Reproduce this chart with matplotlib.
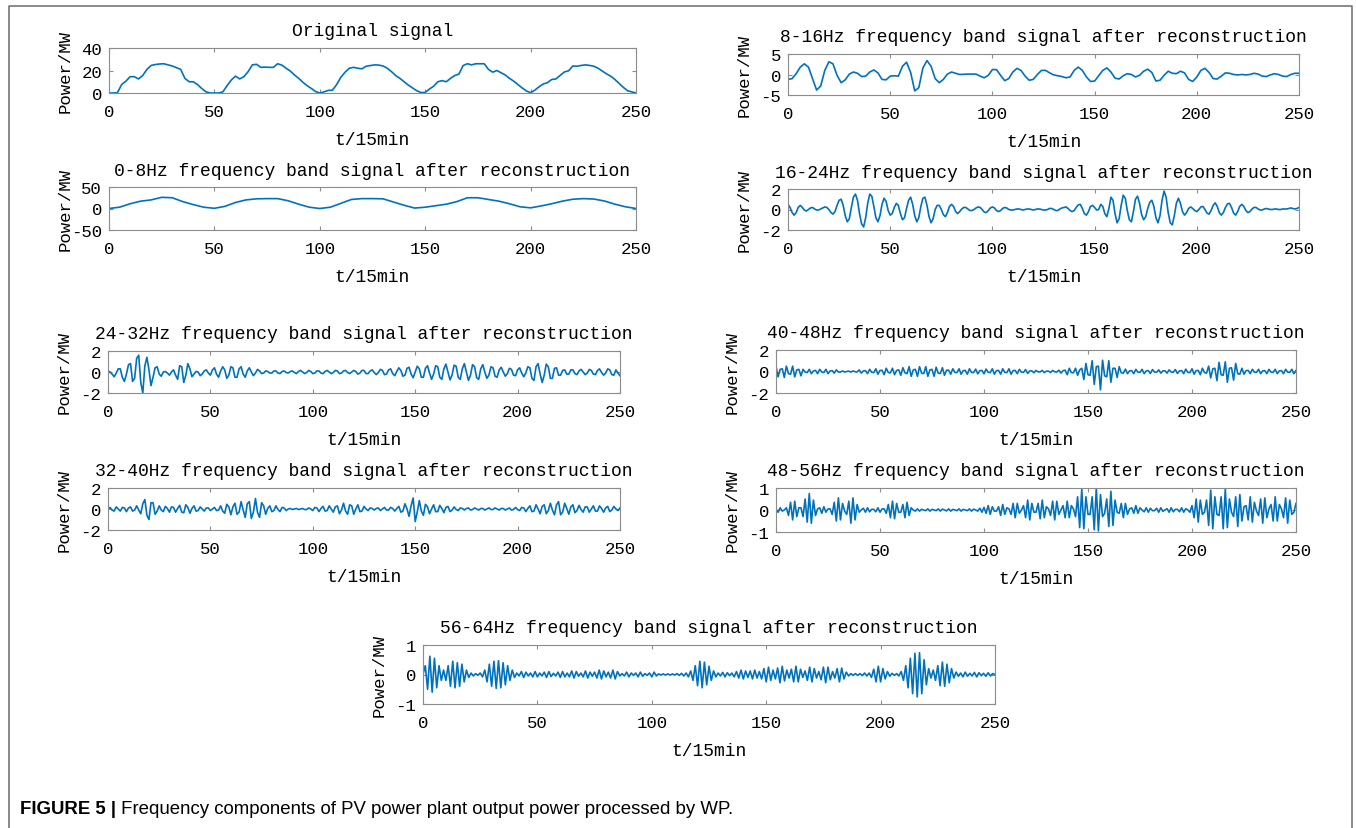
import numpy as np
import matplotlib
matplotlib.use("Agg")
import matplotlib.pyplot as plt
from matplotlib.lines import Line2D

# ---- data (x in units of 15 min) ----
# original signal, every 2 samples
orig = [
    0, 0, 0.3, 7.5, 10.5, 14.5, 14.5, 12.5, 15.6, 21,
    24.5, 25.3, 25.8, 26, 25, 24, 22.5, 21, 13, 10,
    10, 7.5, 4, 1, 0, 0, 0, 1, 6.5, 11.5,
    15, 12.5, 14.5, 19, 25, 25.5, 22.8, 23, 22.8, 22.8,
    26, 24.8, 22, 19.5, 16, 13, 9.5, 6.5, 4, 1.3,
    0, 1, 2.3, 2.5, 7.5, 14, 18.5, 22, 22.8, 22,
    21.5, 23.8, 24.4, 25, 24.8, 24, 22, 19, 15.5, 13,
    10, 7, 4.5, 2, 0.4, 0.5, 3.5, 6, 10, 11,
    10, 13, 15.5, 16.8, 24.4, 26, 25, 26, 26, 26,
    21, 18.5, 20, 18, 16, 13, 10.5, 7.5, 4.5, 1.8,
    0.3, 2.5, 5.5, 8, 9.2, 12, 12.5, 15.6, 18.7, 19.7,
    24, 23.8, 24.5, 25, 24.5, 23.8, 22, 19.5, 17, 15,
    12, 8.5, 5, 2, 1, 0,
]

# 0-8Hz band, every 5 samples
band_0_8 = [
    0, 3, 11, 17, 20, 26, 25, 16, 9, 3,
    0.5, 5, 14, 20, 22.5, 23, 23, 18, 10, 3,
    0, 3, 12, 21, 23, 23, 22.5, 15, 7.5, 1,
    3, 6.5, 10, 16, 25, 25, 21, 17, 11, 4,
    1.5, 6, 11, 17, 21.5, 23, 22, 17.5, 10, 4,
    0,
]

# 8-16Hz band, every 2 samples
band_8_16 = [
    -1.2, -1.0, 0.2, 1.8, 2.6, 1.8, -1.0, -3.8, -2.8, 1.0,
    3.1, 2.6, -0.2, -2.0, -1.3, 0.1, 0.6, 0.3, -0.5, -0.4,
    0.6, 1.1, 0.4, -1.2, -1.3, -0.4, -0.3, -0.4, 2.0, 3.0,
    0.5, -4.0, -3.2, 1.6, 3.4, 2.0, -1.0, -2.0, -1.2, 0.1,
    0.6, 0.3, 0.0, 0.05, 0.1, 0.1, 0.1, -0.4, -0.8, -0.2,
    1.2, 1.2, -0.2, -1.5, -1.0, 0.6, 1.5, 1.0, -0.4, -1.4,
    -1.2, 0.0, 1.0, 1.0, 0.4, -0.1, -0.3, -0.5, -0.8, -0.6,
    1.0, 1.8, 1.0, -0.6, -1.7, -1.6, -0.3, 1.0, 1.6, 0.6,
    -0.9, -1.1, -0.3, 0.2, 0.0, -0.6, -0.2, 0.8, 1.3, 0.5,
    -1.6, -1.4, -0.2, 0.8, 0.3, 0.2, 0.8, 0.4, -1.2, -1.7,
    -0.6, 1.0, 1.5, 0.5, -1.0, -1.1, -0.4, 0.4, 0.3, 0.0,
    -0.1, 0.0, -0.1, 0.0, 0.3, 0.1, -0.4, -0.5, -0.1, 0.2,
    0.0, -0.4, -0.5, 0.0, 0.3, 0.3,
]

# remaining bands, one value per sample
band_16_24 = [
    0.5, 0.2, -0.3, -0.55, -0.3, 0.2, 0.4, 0.2, -0.05, -0.15,
    0.0, 0.15, 0.2, 0.05, -0.05, -0.05, 0.05, 0.15, 0.25, 0.2,
    0.0, -0.3, -0.45, -0.2, 0.4, 0.9, 1.0, 0.4, -0.6, -1.2,
    -0.9, 0.2, 1.2, 1.5, 0.9, -0.4, -1.4, -1.7, -0.8, 0.6,
    1.5, 1.3, 0.3, -0.8, -1.2, -0.6, 0.5, 1.1, 0.8, -0.1,
    -0.55, -0.4, 0.2, 0.6, 0.4, -0.4, -1.0, -0.8, 0.1, 0.9,
    1.2, 0.5, -0.6, -1.2, -0.8, 0.3, 1.1, 1.2, 0.4, -0.7,
    -1.3, -0.9, 0.0, 0.4, 0.4, 0.0, -0.5, -0.7, -0.3, 0.3,
    0.5, 0.3, -0.2, -0.4, -0.2, 0.05, 0.2, 0.2, 0.05, -0.1,
    -0.1, 0.0, 0.15, 0.25, 0.2, 0.0, -0.25, -0.3, -0.1, 0.15,
    0.25, 0.15, -0.1, -0.2, -0.1, 0.1, 0.2, 0.15, 0.0, -0.05,
    -0.05, 0.0, 0.05, 0.05, 0.0, -0.05, 0.0, 0.05, 0.05, 0.0,
    -0.05, 0.0, 0.05, 0.05, 0.0, -0.05, -0.05, 0.0, 0.1, 0.1,
    0.0, -0.1, -0.1, 0.05, 0.15, 0.2, 0.25, 0.1, -0.1, -0.2,
    -0.1, 0.2, 0.45, 0.5, 0.1, -0.4, -0.55, -0.2, 0.3, 0.4,
    0.2, -0.05, 0.0, 0.5, 0.3, -0.4, -0.7, 0.1, 1.2, 0.9,
    -0.4, -1.3, -0.9, 0.4, 1.4, 1.1, -0.1, -1.0, -1.2, -0.2,
    1.0, 1.3, 0.6, -0.5, -1.0, -0.7, 0.1, 0.7, 0.9, 0.3,
    -0.8, -1.3, -0.6, 0.9, 1.8, 1.2, -0.3, -1.3, -1.5, -0.6,
    0.6, 1.1, 0.6, -0.2, -0.55, -0.3, 0.1, 0.25, 0.1, -0.1,
    -0.2, 0.0, 0.25, 0.3, 0.0, -0.35, -0.45, -0.1, 0.4, 0.65,
    0.3, -0.3, -0.55, -0.3, 0.2, 0.55, 0.6, 0.2, -0.35, -0.55,
    -0.2, 0.3, 0.5, 0.3, -0.1, -0.3, -0.2, 0.05, 0.2, 0.2,
    0.05, -0.05, -0.05, 0.05, 0.1, 0.05, 0.0, 0.0, 0.05, 0.05,
    0.0, 0.0, 0.05, 0.05, 0.05, 0.1, 0.15, 0.1, 0.05, 0.1,
    0.2,
]

band_24_32 = [
    0.1, 0.0, -0.2, -0.45, -0.1, 0.3, 0.3, -0.5, -0.9, -0.2,
    0.7, 0.8, -0.9, -0.6, 1.3, 1.6, -1.0, -2.0, 0.6, 1.4,
    0.2, -1.3, -0.5, 0.4, 0.5, -0.2, -0.4, 0.0, 0.05, -0.1,
    -0.3, 0.0, 0.2, -0.3, -0.7, 0.6, 0.5, -1.0, -0.3, 0.8,
    0.3, -0.45, -0.2, 0.05, 0.0, -0.35, -0.2, 0.1, 0.2, -0.1,
    -0.3, 0.2, 0.4, -0.2, -0.5, 0.1, 0.5, 0.2, -0.6, -0.3,
    0.5, 0.4, -0.5, -0.5, 0.3, 0.5, -0.2, -0.5, 0.1, 0.4,
    0.0, -0.35, -0.1, 0.25, 0.1, -0.15, -0.1, 0.1, 0.05, -0.1,
    -0.1, 0.1, 0.1, -0.1, -0.15, 0.05, 0.1, -0.05, -0.1, 0.05,
    0.1, -0.05, -0.15, 0.05, 0.15, 0.0, -0.15, -0.05, 0.15, 0.05,
    -0.15, -0.1, 0.1, 0.1, -0.1, -0.15, 0.05, 0.15, 0.0, -0.15,
    -0.05, 0.15, 0.1, -0.15, -0.1, 0.1, 0.15, -0.05, -0.15, 0.0,
    0.15, 0.05, -0.2, -0.1, 0.15, 0.15, -0.15, -0.15, 0.1, 0.2,
    -0.05, -0.25, -0.05, 0.25, 0.15, -0.25, -0.2, 0.2, 0.3, -0.15,
    -0.35, 0.05, 0.4, 0.15, -0.4, -0.3, 0.35, 0.45, -0.2, -0.55,
    0.0, 0.55, 0.3, -0.5, -0.5, 0.35, 0.6, -0.1, -0.7, -0.2,
    0.6, 0.5, -0.5, -0.7, 0.3, 0.75, 0.0, -0.75, -0.3, 0.65,
    0.55, -0.5, -0.7, 0.3, 0.8, 0.0, -0.8, -0.3, 0.7, 0.5,
    -0.55, -0.7, 0.3, 0.7, 0.0, -0.6, -0.3, 0.5, 0.4, -0.4,
    -0.5, 0.2, 0.45, 0.0, -0.4, -0.15, 0.35, 0.25, -0.3, -0.35,
    0.2, 0.4, -0.1, -0.45, -0.1, 0.5, 0.4, -0.6, -0.8, 0.5,
    0.8, -0.2, -1.0, -0.3, 0.75, 0.5, -0.6, -0.6, 0.35, 0.4,
    -0.3, -0.3, 0.15, 0.2, -0.2, -0.2, 0.2, 0.2, -0.15, -0.25,
    0.1, 0.25, 0.0, -0.25, -0.1, 0.25, 0.15, -0.2, -0.25, 0.15,
    0.3, -0.05, -0.3, -0.1, 0.3, 0.2, -0.25, -0.3, 0.2, -0.1,
    -0.35,
]

band_32_40 = [
    0.0, 0.15, -0.1, -0.2, 0.2, 0.0, -0.2, 0.15, 0.1, -0.25,
    0.1, 0.2, -0.2, -0.1, 0.3, -0.1, -0.45, 0.5, 0.9, -0.6,
    -1.0, 0.6, 0.6, -0.5, -0.2, 0.3, -0.1, -0.25, 0.25, 0.05,
    -0.3, 0.2, 0.15, -0.3, 0.05, 0.35, -0.3, -0.35, 0.4, 0.15,
    -0.4, 0.05, 0.3, -0.2, -0.15, 0.2, 0.0, -0.2, 0.1, 0.1,
    -0.15, 0.0, 0.15, -0.15, -0.1, 0.3, -0.2, -0.4, 0.45, 0.2,
    -0.55, 0.2, 0.55, -0.5, -0.3, 0.7, -0.1, -0.8, 0.5, 0.7,
    -0.9, -0.3, 1.0, -0.3, -0.8, 0.6, 0.3, -0.5, 0.05, 0.3,
    -0.25, -0.15, 0.3, -0.05, -0.25, 0.15, 0.1, -0.15, 0.0, 0.05,
    -0.05, 0.0, 0.05, -0.05, 0.0, 0.05, -0.05, -0.05, 0.1, 0.0,
    -0.15, 0.15, 0.1, -0.25, 0.05, 0.25, -0.2, -0.15, 0.3, 0.0,
    -0.3, 0.2, 0.3, -0.45, -0.1, 0.55, -0.2, -0.5, 0.4, 0.3,
    -0.5, 0.0, 0.4, -0.25, -0.2, 0.25, 0.0, -0.15, 0.1, 0.05,
    -0.1, 0.05, 0.1, -0.15, 0.0, 0.15, -0.1, -0.1, 0.15, 0.05,
    -0.2, 0.05, 0.25, -0.3, -0.2, 0.5, 0.0, -0.7, 0.3, 1.05,
    -1.2, -0.3, 0.8, -0.2, -0.6, 0.45, 0.2, -0.45, 0.0, 0.4,
    -0.25, -0.25, 0.35, 0.05, -0.35, 0.15, 0.25, -0.25, -0.1, 0.2,
    -0.05, -0.15, 0.1, 0.05, -0.1, 0.05, 0.1, -0.1, -0.05, 0.1,
    0.0, -0.1, 0.05, 0.05, -0.1, 0.0, 0.1, -0.05, -0.05, 0.1,
    0.0, -0.1, 0.05, 0.05, -0.1, 0.0, 0.1, -0.1, -0.05, 0.15,
    -0.05, -0.15, 0.15, 0.1, -0.25, 0.05, 0.3, -0.25, -0.2, 0.4,
    0.0, -0.45, 0.25, 0.4, -0.45, -0.15, 0.55, -0.1, -0.55, 0.4,
    0.7, -0.55, -0.3, 0.55, 0.05, -0.5, 0.2, 0.4, -0.35, -0.15,
    0.35, -0.05, -0.3, 0.2, 0.2, -0.3, 0.0, 0.3, -0.2, -0.2,
    0.3, 0.05, -0.3, 0.1, 0.25, -0.25, -0.1, 0.25, 0.0, -0.15,
    0.1,
]

band_40_48 = [
    0.5, -0.5, 0.2, 0.25, -0.55, 0.5, -0.2, -0.25, 0.5, -0.5,
    0.15, 0.2, -0.4, 0.2, -0.05, -0.1, 0.2, -0.2, 0.05, 0.1,
    -0.2, 0.2, -0.05, -0.1, 0.2, -0.2, 0.05, 0.08, -0.15, 0.15,
    -0.05, -0.05, 0.05, -0.05, 0.0, 0.03, -0.05, 0.05, -0.02, -0.05,
    0.15, -0.15, 0.05, 0.08, -0.2, 0.2, -0.07, -0.1, 0.25, -0.25,
    0.1, 0.1, -0.3, 0.3, -0.1, -0.12, 0.3, -0.3, 0.1, 0.15,
    -0.35, 0.35, -0.12, -0.2, 0.45, -0.45, 0.15, 0.2, -0.45, 0.45,
    -0.15, -0.2, 0.45, -0.45, 0.15, 0.2, -0.45, 0.4, -0.15, -0.18,
    0.35, -0.35, 0.12, 0.12, -0.25, 0.25, -0.08, -0.1, 0.25, -0.25,
    0.08, 0.1, -0.25, 0.25, -0.08, -0.1, 0.22, -0.22, 0.08, 0.1,
    -0.22, 0.22, -0.07, -0.1, 0.25, -0.25, 0.08, 0.1, -0.25, 0.25,
    -0.08, -0.1, 0.25, -0.25, 0.08, 0.1, -0.2, 0.2, -0.06, -0.08,
    0.18, -0.18, 0.05, 0.06, -0.12, 0.1, -0.03, -0.04, 0.1, -0.1,
    0.03, 0.04, -0.1, 0.1, -0.03, -0.05, 0.12, -0.15, 0.08, 0.12,
    -0.3, 0.3, -0.1, -0.12, 0.3, -0.35, 0.15, 0.3, -0.75, 0.75,
    -0.3, -0.35, 1.0, -1.2, 0.45, 0.5, -1.7, 1.05, -0.4, -0.5,
    1.0, -1.0, 0.3, 0.3, -0.55, 0.45, -0.12, -0.15, 0.22, -0.2,
    0.06, 0.08, -0.2, 0.2, -0.06, -0.08, 0.2, -0.2, 0.06, 0.08,
    -0.18, 0.18, -0.05, -0.07, 0.15, -0.15, 0.05, 0.06, -0.15, 0.15,
    -0.05, -0.07, 0.18, -0.18, 0.06, 0.08, -0.2, 0.22, -0.08, -0.1,
    0.25, -0.25, 0.08, 0.1, -0.3, 0.3, -0.1, -0.15, 0.5, -0.6,
    0.25, 0.3, -0.85, 0.85, -0.3, -0.35, 0.9, -1.0, 0.3, 0.35,
    -0.8, 0.75, -0.2, -0.25, 0.3, -0.25, 0.08, 0.1, -0.2, 0.2,
    -0.06, -0.08, 0.2, -0.2, 0.06, 0.08, -0.2, 0.2, -0.06, -0.08,
    0.2, -0.2, 0.06, 0.08, -0.2, 0.2, -0.06, -0.08, 0.2, -0.2,
    0.1,
]

band_48_56 = [
    0.05, -0.1, 0.1, -0.05, 0.0, 0.1, -0.25, 0.35, -0.45, 0.4,
    -0.3, 0.1, 0.1, -0.3, 0.5, -0.55, 0.75, -0.6, 0.45, -0.25,
    0.05, 0.1, -0.15, 0.15, -0.1, 0.05, 0.05, -0.2, 0.35, -0.5,
    0.55, -0.45, 0.3, -0.05, -0.2, 0.4, -0.6, 0.55, -0.45, 0.25,
    -0.1, 0.0, 0.08, -0.1, 0.1, -0.08, 0.03, 0.03, -0.08, 0.1,
    -0.1, 0.05, 0.05, -0.15, 0.25, -0.35, 0.4, -0.4, 0.3, -0.1,
    -0.1, 0.25, -0.35, 0.35, -0.25, 0.1, 0.0, -0.05, 0.05, -0.05,
    0.03, 0.0, -0.03, 0.05, -0.05, 0.03, 0.0, -0.03, 0.05, -0.05,
    0.04, 0.0, -0.04, 0.05, -0.05, 0.03, 0.0, -0.03, 0.05, -0.05,
    0.03, 0.0, -0.03, 0.05, -0.05, 0.04, 0.0, -0.05, 0.08, -0.1,
    0.12, -0.15, 0.2, -0.2, 0.15, -0.05, -0.05, 0.15, -0.25, 0.25,
    -0.2, 0.1, 0.05, -0.2, 0.3, -0.35, 0.3, -0.15, 0.0, 0.2,
    -0.35, 0.45, -0.45, 0.3, -0.1, -0.1, 0.3, -0.4, 0.45, -0.35,
    0.15, 0.05, -0.25, 0.4, -0.45, 0.4, -0.2, 0.0, 0.2, -0.35,
    0.4, -0.35, 0.2, 0.05, -0.3, 0.6, -0.8, 0.95, -0.85, 0.6,
    -0.2, -0.2, 0.6, -0.9, 1.0, -0.95, 0.7, -0.3, -0.15, 0.5,
    -0.75, 0.85, -0.7, 0.45, -0.1, -0.15, 0.3, -0.35, 0.3, -0.2,
    0.05, 0.1, -0.15, 0.2, -0.15, 0.1, 0.0, -0.08, 0.1, -0.1,
    0.08, -0.03, -0.03, 0.08, -0.1, 0.1, -0.06, 0.0, 0.06, -0.1,
    0.1, -0.08, 0.03, 0.03, -0.08, 0.1, -0.1, 0.06, 0.0, -0.1,
    0.2, -0.35, 0.5, -0.55, 0.45, -0.2, -0.1, 0.45, -0.7, 0.9,
    -0.85, 0.6, -0.2, -0.25, 0.6, -0.85, 0.95, -0.8, 0.5, -0.1,
    -0.3, 0.6, -0.75, 0.7, -0.5, 0.15, 0.2, -0.45, 0.6, -0.55,
    0.35, -0.05, -0.25, 0.5, -0.6, 0.55, -0.35, 0.05, 0.25, -0.5,
    0.6, -0.5, 0.25, 0.05, -0.35, 0.55, -0.6, 0.45, -0.2, -0.1,
    0.3,
]

band_56_64 = [
    0.0, 0.3, -0.5, 0.62, -0.6, 0.55, -0.45, 0.3, -0.2, 0.15,
    -0.2, 0.3, -0.4, 0.45, -0.45, 0.4, -0.4, 0.35, -0.25, 0.15,
    -0.1, 0.05, -0.05, 0.03, -0.03, 0.05, -0.08, 0.15, -0.25, 0.35,
    -0.4, 0.45, -0.47, 0.47, -0.45, 0.4, -0.35, 0.3, -0.2, 0.15,
    -0.1, 0.05, -0.05, 0.1, -0.1, 0.08, -0.05, 0.05, -0.08, 0.1,
    -0.08, 0.05, -0.05, 0.08, -0.1, 0.1, -0.07, 0.04, -0.05, 0.08,
    -0.1, 0.1, -0.08, 0.05, -0.08, 0.12, -0.12, 0.1, -0.06, 0.05,
    -0.08, 0.12, -0.12, 0.08, -0.06, 0.08, -0.12, 0.15, -0.15, 0.12,
    -0.08, 0.08, -0.12, 0.15, -0.15, 0.1, -0.05, 0.03, -0.05, 0.08,
    -0.08, 0.05, -0.03, 0.05, -0.08, 0.08, -0.06, 0.03, -0.03, 0.05,
    -0.08, 0.08, -0.05, 0.02, -0.02, 0.02, -0.02, 0.02, -0.02, 0.02,
    -0.02, 0.03, -0.03, 0.04, -0.05, 0.05, -0.08, 0.12, -0.2, 0.3,
    -0.38, 0.45, -0.45, 0.42, -0.35, 0.28, -0.2, 0.12, -0.08, 0.05,
    -0.05, 0.07, -0.08, 0.06, -0.04, 0.05, -0.08, 0.1, -0.12, 0.15,
    -0.15, 0.12, -0.1, 0.12, -0.15, 0.15, -0.12, 0.1, -0.15, 0.2,
    -0.25, 0.25, -0.2, 0.15, -0.15, 0.22, -0.28, 0.28, -0.22, 0.15,
    -0.12, 0.18, -0.25, 0.28, -0.25, 0.18, -0.1, 0.12, -0.2, 0.25,
    -0.25, 0.2, -0.12, 0.1, -0.18, 0.25, -0.28, 0.25, -0.18, 0.1,
    -0.12, 0.2, -0.25, 0.22, -0.15, 0.08, -0.05, 0.03, -0.03, 0.03,
    -0.03, 0.03, -0.04, 0.05, -0.05, 0.05, -0.1, 0.18, -0.25, 0.28,
    -0.25, 0.2, -0.15, 0.1, -0.06, 0.04, -0.03, 0.03, -0.05, 0.1,
    -0.2, 0.3, -0.45, 0.55, -0.65, 0.72, -0.76, 0.74, -0.65, 0.5,
    -0.35, 0.2, -0.12, 0.15, -0.2, 0.3, -0.38, 0.42, -0.4, 0.35,
    -0.28, 0.2, -0.12, 0.08, -0.06, 0.05, -0.08, 0.08, -0.06, 0.04,
    -0.05, 0.07, -0.08, 0.06, -0.04, 0.04, -0.06, 0.06, -0.05, 0.03,
    0.0,
]

titles = [
    "Original signal",
    "0-8Hz frequency band signal after reconstruction",
    "24-32Hz frequency band signal after reconstruction",
    "32-40Hz frequency band signal after reconstruction",
    "8-16Hz frequency band signal after reconstruction",
    "16-24Hz frequency band signal after reconstruction",
    "40-48Hz frequency band signal after reconstruction",
    "48-56Hz frequency band signal after reconstruction",
    "56-64Hz frequency band signal after reconstruction",
]
series = [orig, band_0_8, band_24_32, band_32_40, band_8_16,
          band_16_24, band_40_48, band_48_56, band_56_64]
steps = [2, 5, 1, 1, 2, 1, 1, 1, 1]
ylims = [(0, 40), (-50, 50), (-2, 2), (-2, 2), (-5, 5),
         (-2, 2), (-2, 2), (-1, 1), (-1, 1)]
caption_bold = "FIGURE 5 |"
caption_text = " Frequency components of PV power plant output power processed by WP."

# ---- layout (pixel boxes: left, top, right, bottom) ----
W, H = 1356, 829
boxes = [
    (109, 49, 636, 94),
    (109, 188, 636, 231),
    (108, 352, 620, 394),
    (108, 489, 620, 531),
    (788, 55, 1299, 96),
    (788, 190, 1299, 231),
    (776, 351, 1296, 394),
    (776, 489, 1296, 533),
    (423, 646, 995, 705),
]

BLUE = "#0072BD"
EDGE = "#8c8c8c"
FONT = "Liberation Mono"


def make_panel(fig, box, y, step, ylim, title):
    x0, y0, x1, y1 = box
    w, h = x1 - x0, y1 - y0
    ax = fig.add_axes([x0 / W, 1 - y1 / H, w / W, h / H])
    x = np.arange(len(y)) * step
    ax.plot(x, y, color=BLUE, lw=1.2)
    ax.set_xlim(0, 250)
    ax.set_ylim(*ylim)
    ax.set_xticks(range(0, 251, 50))
    ax.set_yticks([ylim[0], (ylim[0] + ylim[1]) / 2, ylim[1]])
    ax.set_yticklabels([f"{v:g}" for v in ax.get_yticks()])
    for s in ax.spines.values():
        s.set_color(EDGE)
        s.set_linewidth(0.8)
    ax.tick_params(direction="in", top=True, right=True, length=3,
                   color=EDGE, labelsize=12.5)
    ax.tick_params(axis="x", pad=8)
    ax.tick_params(axis="y", pad=5)
    for lab in ax.get_xticklabels() + ax.get_yticklabels():
        lab.set_family(FONT)
    ax.text(0.5, 1 + 17 / h, title, transform=ax.transAxes, ha="center",
            va="center", fontsize=13, family=FONT)
    ax.set_xlabel("t/15min", fontsize=13, family=FONT)
    ax.xaxis.set_label_coords(0.5, -38 / h)
    ax.set_ylabel("Power/MW", fontsize=12.5, family=FONT)
    ax.yaxis.set_label_coords(-36 / w, 0.5)
    return ax


def main():
    fig = plt.figure(figsize=(W / 100, H / 100), dpi=100)

    for box, y, step, ylim, title in zip(boxes, series, steps, ylims, titles):
        make_panel(fig, box, y, step, ylim, title)

    # page frame
    fig.add_artist(Line2D([9 / W, 9 / W, 1352 / W, 1352 / W],
                          [0, 1 - 7 / H, 1 - 7 / H, 0],
                          transform=fig.transFigure, color="#777777", lw=1.2))

    # caption: bold label then plain text
    t1 = fig.text(20 / W, 1 - 810 / H, caption_bold, fontsize=13.4,
                  family="Liberation Sans", weight="bold", va="center")
    fig.canvas.draw()
    bb = t1.get_window_extent()
    fig.text(bb.x1 / W, 1 - 810 / H, caption_text, fontsize=13.4,
             family="Liberation Sans", va="center")

    fig.savefig("out.png", dpi=100)


if __name__ == "__main__":
    main()
